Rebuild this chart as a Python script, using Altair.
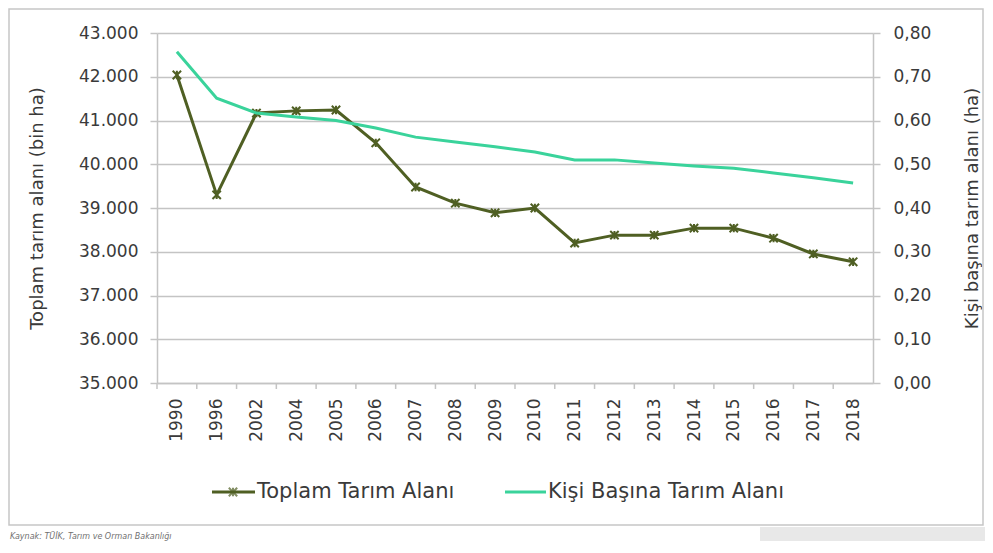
import altair as alt
import pandas as pd

years = ["1990", "1996", "2002", "2004", "2005", "2006", "2007", "2008", "2009",
         "2010", "2011", "2012", "2013", "2014", "2015", "2016", "2017", "2018"]
toplam = [42040, 39300, 41170, 41220, 41240, 40490, 39480, 39110, 38890,
          39000, 38200, 38380, 38380, 38540, 38540, 38310, 37950, 37770]
kisi = [0.757, 0.651, 0.617, 0.608, 0.600, 0.583, 0.562, 0.551, 0.540,
        0.528, 0.510, 0.510, 0.503, 0.496, 0.491, 0.480, 0.469, 0.457]
left_ticks = [35000, 36000, 37000, 38000, 39000, 40000, 41000, 42000, 43000]
right_ticks = [0.0, 0.1, 0.2, 0.3, 0.4, 0.5, 0.6, 0.7, 0.8]
series_names = ["Toplam Tarım Alanı", "Kişi Başına Tarım Alanı"]
colors = ["#4f5f23", "#3ad39b"]
left_title = "Toplam tarım alanı (bin ha)"
right_title = "Kişi başına tarım alanı (ha)"
source_text = "Kaynak: TÜİK, Tarım ve Orman Bakanlığı"

W, H = 716, 350
FONT = "DejaVu Sans"
TXT = "#3a3a3a"
GRID = "#c4c4c4"
STAR = "M-1,-1L1,1M-1,1L1,-1M0,-1L0,1"

df = pd.DataFrame({"year": years, "toplam": toplam, "kisi": kisi})
one = pd.DataFrame({"k": [0]})

x_enc = alt.X(
    "year:N", sort=years, title=None,
    scale=alt.Scale(type="point", padding=0.5),
    axis=alt.Axis(labelAngle=-90, labelAlign="right", labelBaseline="middle",
                  ticks=False, tickSize=0, labelPadding=15, domainColor=GRID,
                  domainWidth=1.5, grid=False, labelFontSize=17,
                  labelFont=FONT, labelColor=TXT),
)

base = alt.Chart(df)

olive = base.mark_line(
    color=colors[0], strokeWidth=3,
    point=alt.OverlayMarkDef(shape=STAR, filled=False, color=colors[0],
                             stroke=colors[0], strokeWidth=2, size=70),
).encode(
    x=x_enc,
    y=alt.Y("toplam:Q", title=left_title,
            scale=alt.Scale(domain=[35000, 43000], nice=False, zero=False),
            axis=alt.Axis(values=left_ticks,
                          labelExpr="replace(format(datum.value, ',d'), ',', '.')",
                          grid=True, gridColor=GRID, gridWidth=1.5,
                          domainColor=GRID, domainWidth=1.5,
                          tickColor=GRID, tickWidth=1.5, tickSize=7,
                          labelPadding=12, labelFontSize=17, labelFont=FONT,
                          labelColor=TXT, titleFont=FONT, titleFontSize=18,
                          titleFontWeight="normal", titleColor=TXT,
                          titleX=-120, titleY=H / 2, titleAngle=270,
                          titleAlign="center", titleBaseline="middle")),
)

green = base.mark_line(color=colors[1], strokeWidth=3).encode(
    x=x_enc,
    y=alt.Y("kisi:Q", title=right_title,
            scale=alt.Scale(domain=[0, 0.8], nice=False),
            axis=alt.Axis(orient="right", values=right_ticks,
                          labelExpr="replace(format(datum.value, '.2f'), '.', ',')",
                          grid=False, domainColor=GRID, domainWidth=1.5,
                          tickColor=GRID, tickWidth=1.5, tickSize=7,
                          labelPadding=13, labelFontSize=17, labelFont=FONT,
                          labelColor=TXT, titleFont=FONT, titleFontSize=18,
                          titleFontWeight="normal", titleColor=TXT,
                          titleX=99, titleY=H / 2, titleAngle=270,
                          titleAlign="center", titleBaseline="middle")),
)

# category boundary ticks on x axis
step = W / len(years)
xticks = base.mark_rule(color=GRID, strokeWidth=1.5).encode(
    x=x_enc, xOffset=alt.value(-step / 2),
    y=alt.value(H), y2=alt.value(H + 6),
)

frame = alt.Chart(one).mark_rect(fillOpacity=0, stroke="#c6c6c6", strokeWidth=1.5).encode(
    x=alt.value(-148), x2=alt.value(826), y=alt.value(-24), y2=alt.value(492))

gray = alt.Chart(one).mark_rect(color="#e8e8e8").encode(
    x=alt.value(603), x2=alt.value(830), y=alt.value(494), y2=alt.value(520))

src = alt.Chart(one).mark_text(text=source_text, fontSize=8, fontStyle="italic",
                               color="#707070", align="left", baseline="middle",
                               font=FONT).encode(
    x=alt.value(-147), y=alt.value(504))

LY = 459
leg1_line = alt.Chart(one).mark_rule(color=colors[0], strokeWidth=3).encode(
    x=alt.value(55), x2=alt.value(98), y=alt.value(LY))
leg1_pt = alt.Chart(one).mark_point(shape=STAR, filled=False, color=colors[0],
                                    strokeWidth=2, size=70).encode(
    x=alt.value(76), y=alt.value(LY))
leg1_txt = alt.Chart(one).mark_text(text=series_names[0], fontSize=21, font=FONT,
                                    color=TXT, align="left", baseline="middle").encode(
    x=alt.value(100), y=alt.value(LY))
leg2_line = alt.Chart(one).mark_rule(color=colors[1], strokeWidth=3).encode(
    x=alt.value(348), x2=alt.value(389), y=alt.value(LY))
leg2_txt = alt.Chart(one).mark_text(text=series_names[1], fontSize=21, font=FONT,
                                    color=TXT, align="left", baseline="middle").encode(
    x=alt.value(391), y=alt.value(LY))

chart = alt.layer(
    olive, green, xticks, frame, gray, src,
    leg1_line, leg1_pt, leg1_txt, leg2_line, leg2_txt,
).resolve_scale(y="independent").properties(
    width=W, height=H,
    autosize=alt.AutoSizeParams(type="none"),
    padding={"left": 149, "top": 25, "right": 112, "bottom": 158},
    background="white",
).configure_view(strokeWidth=0)

chart.save("out.html", embed_options={"renderer": "svg", "actions": False})
